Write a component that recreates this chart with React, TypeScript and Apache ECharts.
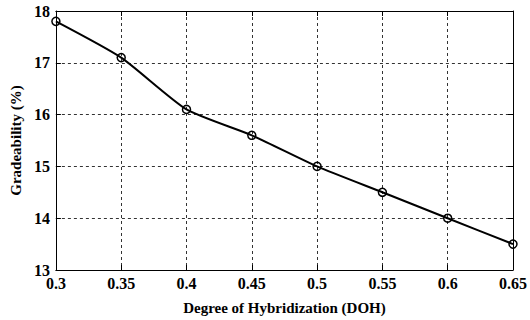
import React, { useEffect, useRef } from "react";
import * as echarts from "echarts";

const doh = [0.3, 0.35, 0.4, 0.45, 0.5, 0.55, 0.6, 0.65];
const gradeability = [17.8, 17.1, 16.1, 15.6, 15.0, 14.5, 14.0, 13.5];
const xTitle = "Degree of Hybridization (DOH)";
const yTitle = "Gradeability (%)";

const font = "Liberation Serif";

export default function App() {
  const ref = useRef<HTMLDivElement>(null);
  useEffect(() => {
    if (!ref.current) return;
    const chart = echarts.init(ref.current, null, { renderer: "svg" });
    const fmt = (v: number) => parseFloat(v.toFixed(2)).toString();
    const axisLine = { show: true, onZero: false, lineStyle: { color: "#000", width: 1 } };
    const tick = { show: true, inside: true, length: 5, lineStyle: { color: "#000" } };
    const split = { show: true, lineStyle: { color: "#333", type: [3, 3] as any, width: 1 } };
    chart.setOption({
      animation: false,
      backgroundColor: "#fff",
      grid: { left: 54, right: 15, top: 11, bottom: 48, containLabel: false },
      xAxis: [
        {
          type: "value",
          min: 0.3,
          max: 0.65,
          interval: 0.05,
          name: xTitle,
          nameLocation: "middle",
          nameGap: 30,
          nameTextStyle: { fontFamily: font, fontWeight: "bold", fontSize: 15, color: "#000" },
          axisLine,
          axisTick: tick,
          splitLine: split,
          axisLabel: {
            formatter: fmt,
            fontFamily: font,
            fontWeight: "bold",
            fontSize: 16,
            color: "#000",
            margin: 5,
          },
        },
        {
          type: "value",
          position: "top",
          min: 0.3,
          max: 0.65,
          interval: 0.05,
          axisLine,
          axisTick: tick,
          splitLine: { show: false },
          axisLabel: { show: false },
        },
      ],
      yAxis: [
        {
          type: "value",
          min: 13,
          max: 18,
          interval: 1,
          name: yTitle,
          nameLocation: "middle",
          nameGap: 32,
          nameTextStyle: { fontFamily: font, fontWeight: "bold", fontSize: 15, color: "#000" },
          axisLine,
          axisTick: tick,
          splitLine: split,
          axisLabel: {
            fontFamily: font,
            fontWeight: "bold",
            fontSize: 16,
            color: "#000",
            margin: 6,
          },
        },
        {
          type: "value",
          position: "right",
          min: 13,
          max: 18,
          interval: 1,
          axisLine,
          axisTick: tick,
          splitLine: { show: false },
          axisLabel: { show: false },
        },
      ],
      series: [
        {
          type: "line",
          data: doh.map((x, i) => [x, gradeability[i]]),
          smooth: 0.2,
          symbol: "circle",
          symbolSize: 8,
          showAllSymbol: true,
          lineStyle: { color: "#000", width: 2 },
          itemStyle: { color: "transparent", borderColor: "#000", borderWidth: 1.5 },
        },
      ],
    });
    return () => chart.dispose();
  }, []);
  return <div ref={ref} style={{ width: 530, height: 320, position: "absolute", left: 0, top: 0 }} />;
}
